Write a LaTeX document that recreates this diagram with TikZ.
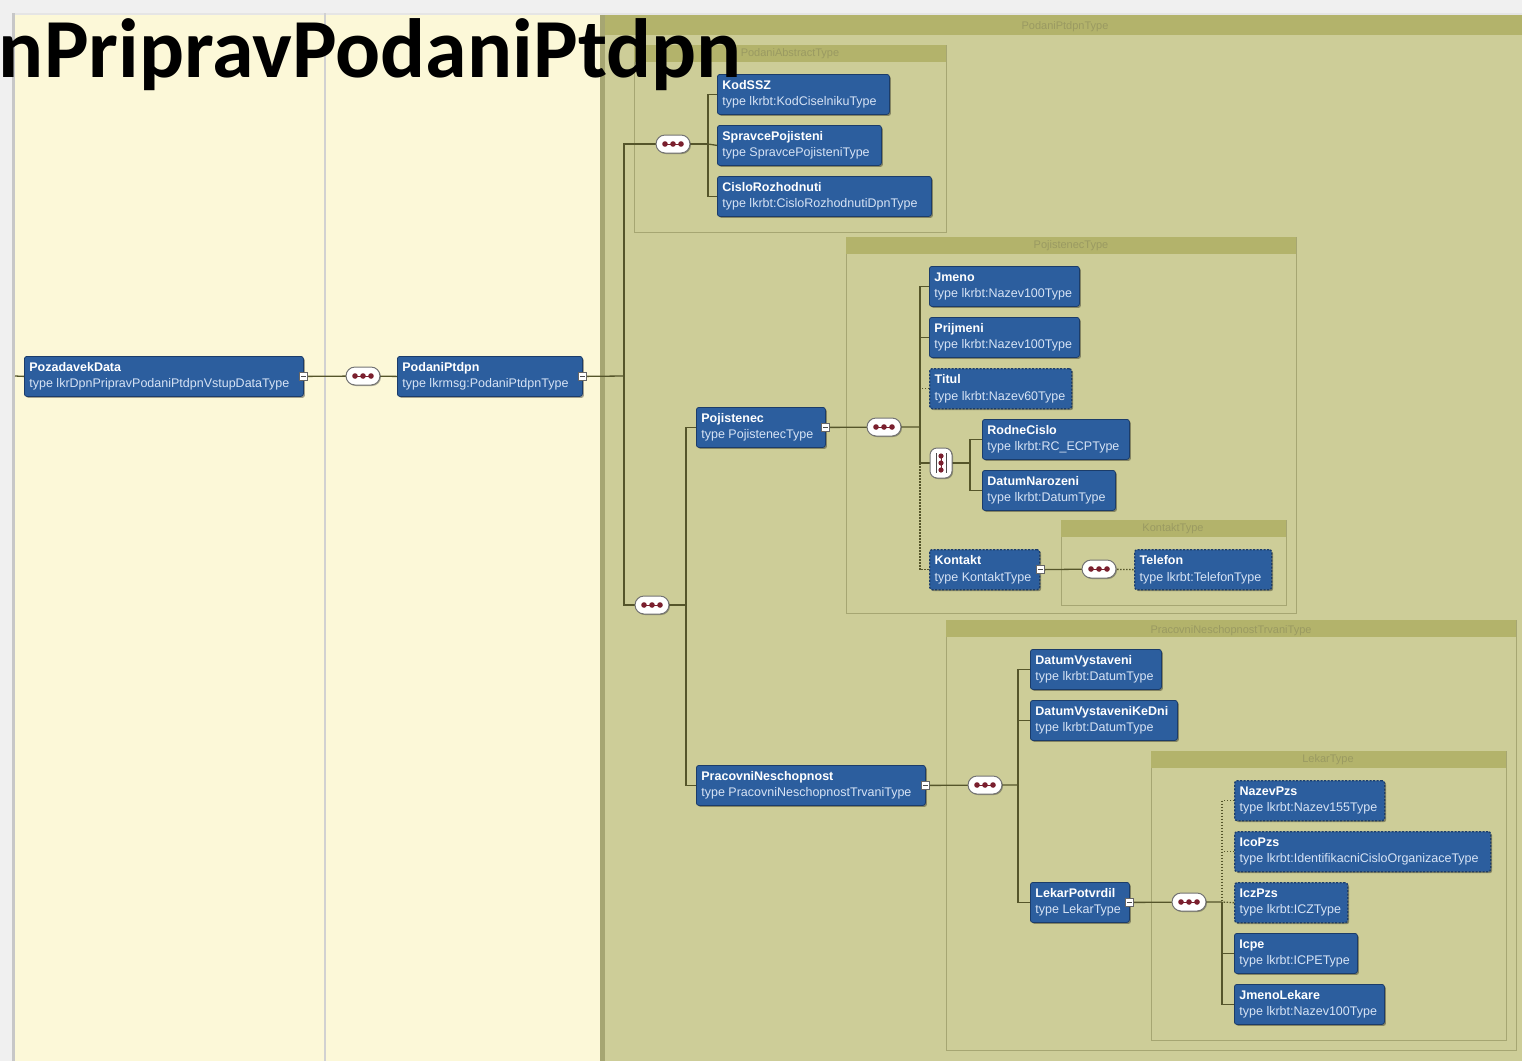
\documentclass[tikz,border=0pt]{standalone}
\usepackage{fontspec}
\setmainfont{Liberation Sans}
\newfontfamily\titlefont{Carlito}
\usetikzlibrary{shapes.misc,shadows}
\definecolor{cream}{HTML}{FCF8D8}
\definecolor{olivebg}{HTML}{CDCD98}
\definecolor{olivehd}{HTML}{B3B36B}
\definecolor{olivetx}{HTML}{9A9A62}
\definecolor{olivebd}{HTML}{A6A672}
\definecolor{elblue}{HTML}{2C5E9E}
\definecolor{elbd}{HTML}{1B3C6A}
\definecolor{connc}{HTML}{55552A}
\definecolor{dotred}{HTML}{7A1F2E}
\definecolor{typetx}{HTML}{D6E3F5}
\newcommand{\elm}[7][]{%
  \pgfmathsetmacro\tw{#5-10}%
  \node[elem,#1,anchor=north west] (#2) at (#3,#4)
    {\makebox[\tw pt][l]{\textbf{#6}}\\\makebox[\tw pt][l]{\color{typetx}type #7}};}
\begin{document}
\begin{tikzpicture}[x=1pt,y=-1pt,
  elem/.style={draw=elbd, fill=elblue, rounded corners=2.5pt, text=white,
    font=\fontsize{12.5}{16.5}\selectfont, inner xsep=5pt, inner ysep=3pt,
    minimum height=40pt, align=left, line width=0.8pt,
    drop shadow={shadow xshift=1.5pt, shadow yshift=-1.5pt, opacity=0.35, fill=black}},
  opt/.style={dash pattern=on 2pt off 1.5pt, line width=1.3pt},
  seq/.style={rounded rectangle, draw=black!55, fill=white, minimum width=34pt,
    minimum height=18pt, inner sep=0pt, line width=1pt,
    drop shadow={shadow xshift=1pt, shadow yshift=-1pt, opacity=0.3, fill=black},
    path picture={
      \draw[dotred, line width=1pt] ([xshift=-8pt]path picture bounding box.center) -- ([xshift=8pt]path picture bounding box.center);
      \foreach \d in {-8,0,8} \fill[dotred] ([xshift=\d pt]path picture bounding box.center) circle (2.8pt);}},
  chc/.style={rectangle, rounded corners=7pt, draw=black!55, fill=white, minimum width=22pt,
    minimum height=30pt, inner sep=0pt, line width=1pt,
    drop shadow={shadow xshift=1pt, shadow yshift=-1pt, opacity=0.3, fill=black},
    path picture={
      \draw[black!70, line width=0.8pt] ([xshift=-5pt,yshift=10pt]path picture bounding box.center) -- ([xshift=-5pt,yshift=-10pt]path picture bounding box.center);
      \draw[black!70, line width=0.8pt] ([xshift=5pt,yshift=10pt]path picture bounding box.center) -- ([xshift=5pt,yshift=-10pt]path picture bounding box.center);
      \draw[dotred, line width=1pt] ([yshift=7pt]path picture bounding box.center) -- ([yshift=-7pt]path picture bounding box.center);
      \foreach \d in {-7,0,7} \fill[dotred] ([yshift=\d pt]path picture bounding box.center) circle (2.6pt);}},
  expd/.style={draw=black!60, fill=white, minimum size=8pt, inner sep=0pt, line width=0.7pt,
    path picture={\draw[black!70] ([xshift=-2.5pt]path picture bounding box.center) -- ([xshift=2.5pt]path picture bounding box.center);}},
  conn/.style={draw=connc, line width=1.3pt},
  dconn/.style={draw=connc, line width=1.3pt, dash pattern=on 1.5pt off 1.5pt},
  cont/.style={draw=olivebd, fill=olivebg, line width=0.8pt},
  hdr/.style={font=\fontsize{11}{13}\selectfont, text=olivetx, inner sep=0pt}
]
\useasboundingbox (0,0) rectangle (1522,1061);
\clip (0,0) rectangle (1522,1061);
% backgrounds
\fill[black!6] (0,0) rectangle (1522,1061);
\fill[cream] (14,13) rectangle (1522,1061);
\fill[black!22] (12,13) rectangle (15,1061);
\fill[black!10] (15,13) rectangle (1522,15);
\draw[draw=black!18, line width=2pt] (325,13) -- (325,1061);
% outer container
\fill[olivebg] (603,15) rectangle (1522,1061);
\fill[olivehd] (603,15) rectangle (1522,35);
\fill[olivebd] (600,15) rectangle (605,1061);
\node[hdr] (hOuter) at (1065,27) {PodaniPtdpnType};
% inner containers
\draw[cont] (634,45) rectangle (946,232);
\fill[olivehd] (634,45) rectangle (946,62);
\node[hdr] (hAbs) at (790,54) {PodaniAbstractType};
\draw[cont] (846,237) rectangle (1296,613);
\fill[olivehd] (846,237) rectangle (1296,254);
\node[hdr] (hPoj) at (1071,246) {PojistenecType};
\draw[cont] (1061,520) rectangle (1286,605);
\fill[olivehd] (1061,520) rectangle (1286,537);
\node[hdr] (hKon) at (1173,529) {KontaktType};
\draw[cont] (946,620) rectangle (1516,1050);
\fill[olivehd] (946,620) rectangle (1516,637);
\node[hdr] (hPN) at (1231,631) {PracovniNeschopnostTrvaniType};
\draw[cont] (1151,751) rectangle (1506,1040);
\fill[olivehd] (1151,751) rectangle (1506,768);
\node[hdr] (hLek) at (1328,760) {LekarType};

% elements
\elm{PozadavekData}{24}{356}{279}{PozadavekData}{lkrDpnPripravPodaniPtdpnVstupDataType}
\elm{PodaniPtdpn}{397}{356}{185}{PodaniPtdpn}{lkrmsg:PodaniPtdpnType}
\elm{KodSSZ}{717}{74}{172}{KodSSZ}{lkrbt:KodCiselnikuType}
\elm{SpravcePojisteni}{717}{125}{164}{SpravcePojisteni}{SpravcePojisteniType}
\elm{CisloRozhodnuti}{717}{176}{214}{CisloRozhodnuti}{lkrbt:CisloRozhodnutiDpnType}
\elm{Jmeno}{929}{266}{150}{Jmeno}{lkrbt:Nazev100Type}
\elm{Prijmeni}{929}{317}{150}{Prijmeni}{lkrbt:Nazev100Type}
\elm[opt]{Titul}{929}{368}{142}{Titul}{lkrbt:Nazev60Type}
\elm{RodneCislo}{982}{419}{147}{RodneCislo}{lkrbt:RC\_ECPType}
\elm{DatumNarozeni}{982}{470}{133}{DatumNarozeni}{lkrbt:DatumType}
\elm[opt]{Kontakt}{929}{549}{110}{Kontakt}{KontaktType}
\elm[opt]{Telefon}{1134}{549}{137}{Telefon}{lkrbt:TelefonType}
\elm{Pojistenec}{696}{407}{129}{Pojistenec}{PojistenecType}
\elm{PracovniNeschopnost}{696}{765}{229}{PracovniNeschopnost}{PracovniNeschopnostTrvaniType}
\elm{DatumVystaveni}{1030}{649}{131}{DatumVystaveni}{lkrbt:DatumType}
\elm{DatumVystaveniKeDni}{1030}{700}{147}{DatumVystaveniKeDni}{lkrbt:DatumType}
\elm{LekarPotvrdil}{1030}{882}{99}{LekarPotvrdil}{LekarType}
\elm[opt]{NazevPzs}{1234}{780}{150}{NazevPzs}{lkrbt:Nazev155Type}
\elm[opt]{IcoPzs}{1234}{831}{256}{IcoPzs}{lkrbt:IdentifikacniCisloOrganizaceType}
\elm[opt]{IczPzs}{1234}{882}{113}{IczPzs}{lkrbt:ICZType}
\elm{Icpe}{1234}{933}{123}{Icpe}{lkrbt:ICPEType}
\elm{JmenoLekare}{1234}{984}{150}{JmenoLekare}{lkrbt:Nazev100Type}

% junction coordinates
\coordinate (L0) at (15,376);
\coordinate (J1) at (624,376);
\coordinate (J2) at (708,144);
\coordinate (J3) at (686,605);
\coordinate (J4) at (920,427);
\coordinate (J5) at (970,463);
\coordinate (J6) at (1018,785);
\coordinate (J7) at (1222,902);

% compositor positions (nodes drawn after connectors)
\coordinate (s1p) at (363,376);
\coordinate (s2p) at (673,144);
\coordinate (s3p) at (652,605);
\coordinate (s4p) at (884,427);
\coordinate (chp) at (941,463);
\coordinate (s5p) at (1099,569);
\coordinate (s6p) at (985,785);
\coordinate (s7p) at (1189,902);

% connectors
\draw[conn] (L0) -- (PozadavekData.west);
\draw[conn] (PozadavekData.east) -- (s1p);
\draw[conn] (s1p) -- (PodaniPtdpn.west);
\draw[conn] (PodaniPtdpn.east) -- (J1);
\draw[conn] (s2p) -| (J1) |- (s3p);
\draw[conn] (s2p) -- (J2);
\draw[conn] (KodSSZ.west) -| (J2) |- (CisloRozhodnuti.west);
\draw[conn] (J2) -- (SpravcePojisteni.west);
\draw[conn] (s3p) -- (J3);
\draw[conn] (Pojistenec.west) -| (J3) |- (PracovniNeschopnost.west);
\draw[conn] (Pojistenec.east) -- (J4);
\draw[conn] (Jmeno.west) -| (J4) |- (chp);
\draw[conn] (Prijmeni.west) -- (Prijmeni.west -| J4);
\draw[dconn] (Titul.west) -- (Titul.west -| J4);
\draw[dconn] (chp -| J4) |- (Kontakt.west);
\draw[conn] (chp) -- (J5);
\draw[conn] (RodneCislo.west) -| (J5) |- (DatumNarozeni.west);
\draw[conn] (Kontakt.east) -- (s5p);
\draw[dconn] (s5p) -- (Telefon.west);
\draw[conn] (PracovniNeschopnost.east) -- (J6);
\draw[conn] (DatumVystaveni.west) -| (J6) |- (LekarPotvrdil.west);
\draw[conn] (DatumVystaveniKeDni.west) -- (DatumVystaveniKeDni.west -| J6);
\draw[conn] (LekarPotvrdil.east) -- (J7);
\draw[dconn] (NazevPzs.west) -| (J7);
\draw[dconn] (IcoPzs.west) -- (IcoPzs.west -| J7);
\draw[dconn] (IczPzs.west) -- (J7);
\draw[conn] (J7) |- (JmenoLekare.west);
\draw[conn] (Icpe.west) -- (Icpe.west -| J7);

% compositors
\node[seq] (s1) at (s1p) {};
\node[seq] (s2) at (s2p) {};
\node[seq] (s3) at (s3p) {};
\node[seq] (s4) at (s4p) {};
\node[chc] (ch) at (chp) {};
\node[seq] (s5) at (s5p) {};
\node[seq] (s6) at (s6p) {};
\node[seq] (s7) at (s7p) {};

% expanders
\node[expd] (xPozadavekData) at (PozadavekData.east) {};
\node[expd] (xPodaniPtdpn) at (PodaniPtdpn.east) {};
\node[expd] (xPojistenec) at (Pojistenec.east) {};
\node[expd] (xKontakt) at (Kontakt.east) {};
\node[expd] (xPracovniNeschopnost) at (PracovniNeschopnost.east) {};
\node[expd] (xLekarPotvrdil) at (LekarPotvrdil.east) {};

% title
\node[font=\titlefont\bfseries\fontsize{84}{84}\selectfont, anchor=base east, inner sep=0pt] (title) at (742,77) {nPripravPodaniPtdpn};
\end{tikzpicture}
\end{document}
